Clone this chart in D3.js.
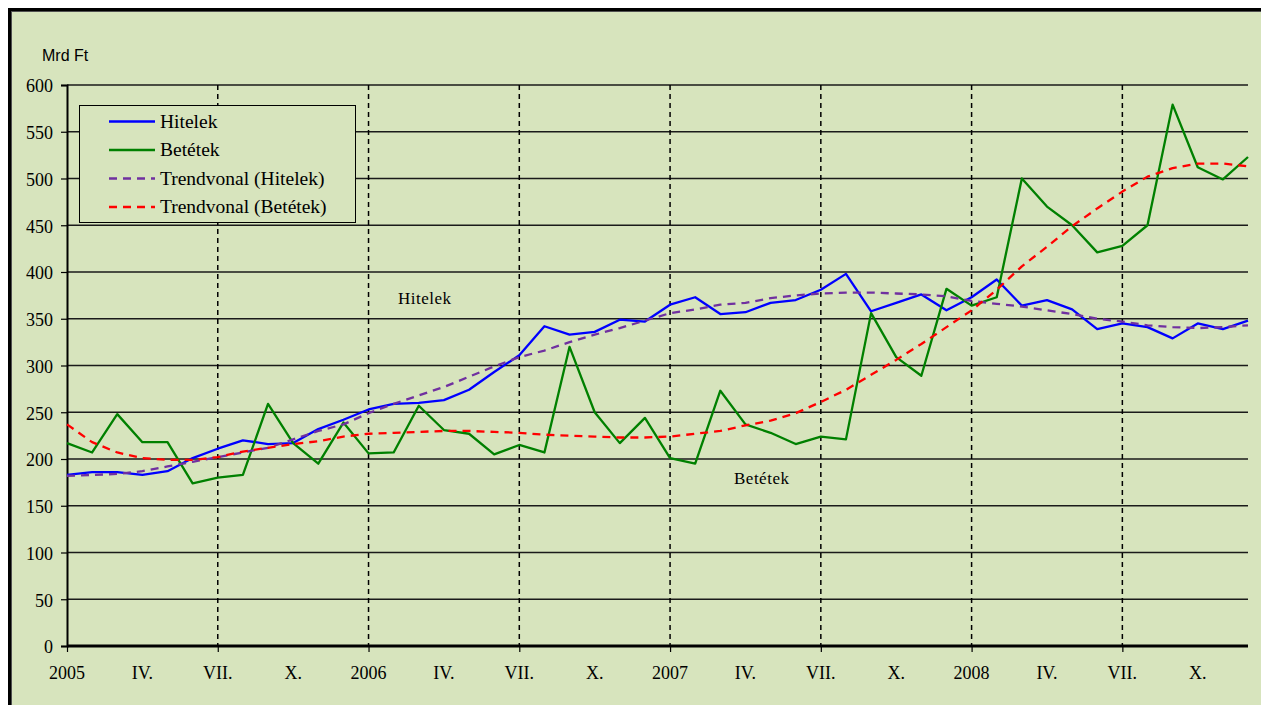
<!DOCTYPE html>
<html lang="hu">
<head>
<meta charset="utf-8">
<title>Hitelek és betétek</title>
<style>
  html, body { margin: 0; padding: 0; background: #fff; }
  svg { display: block; }
  .serif { font-family: "Liberation Serif", "Times New Roman", serif; fill: #000; }
</style>
</head>
<body>
<div id="chart"></div>
<script src="https://cdn.jsdelivr.net/npm/d3@7"></script>
<script>
// havi adatok, 2005. január - 2008. december (Mrd Ft)
var tickLabels = ["2005", "IV.", "VII.", "X.", "2006", "IV.", "VII.", "X.",
                  "2007", "IV.", "VII.", "X.", "2008", "IV.", "VII.", "X."];

var hitelek = [183, 186, 186, 183, 187, 201, 211, 220, 216, 217, 232, 242,
               253, 259, 260, 263, 274, 293, 311, 342, 333, 336, 349, 347,
               365, 373, 355, 357, 367, 370, 381, 398, 358, 367, 376, 359,
               373, 392, 364, 370, 360, 339, 345, 341, 329, 345, 339, 348];

var betetek = [217, 207, 248, 218, 218, 174, 180, 183, 259, 217, 195, 239,
               206, 207, 257, 231, 227, 205, 215, 207, 320, 250, 217, 244,
               201, 195, 273, 237, 228, 216, 224, 221, 356, 309, 289, 382,
               364, 373, 500, 470, 450, 421, 428, 450, 579, 512, 499, 523];

var trendHitelek = [182, 183, 184, 187, 192, 197, 202, 207, 212, 221, 230, 237,
                    249, 259, 268, 277, 288, 299, 309, 316, 325, 333, 340, 348,
                    356, 360, 365, 367, 372, 375, 377, 378, 378, 377, 376, 374,
                    369, 366, 363, 359, 355, 350, 347, 343, 341, 340, 341, 343];

var trendBetetek = [237, 218, 207, 201, 199, 199, 202, 208, 212, 216, 219, 224,
                    227, 228, 229, 230, 230, 229, 228, 226, 225, 224, 223, 223,
                    224, 227, 230, 236, 241, 249, 261, 274, 290, 306, 323, 341,
                    359, 381, 406, 427, 449, 468, 486, 502, 511, 516, 516, 513];

var legendNames = ["Hitelek", "Betétek", "Trendvonal (Hitelek)", "Trendvonal (Betétek)"];

var width = 1261, height = 705;
var bg = "#d7e4bd";

var svg = d3.select("#chart").append("svg")
    .attr("width", width)
    .attr("height", height);

// keret
svg.append("rect").attr("x", 8).attr("y", 8)
    .attr("width", width - 8).attr("height", height - 8)
    .attr("fill", "#000");
svg.append("rect").attr("x", 11).attr("y", 11)
    .attr("width", width - 11).attr("height", height - 11)
    .attr("fill", "#505050");
svg.append("rect").attr("x", 12).attr("y", 12)
    .attr("width", width - 12).attr("height", height - 12)
    .attr("fill", bg);

var x = d3.scaleLinear().domain([0, hitelek.length - 1]).range([67, 1248]);
var y = d3.scaleLinear().domain([0, 600]).range([646, 85]);

// vízszintes rácsvonalak
var yTicks = d3.range(0, 601, 50);
svg.append("g").selectAll("line")
    .data(yTicks.filter(function (d) { return d > 0; }))
    .enter().append("line")
    .attr("x1", 67).attr("x2", 1248)
    .attr("y1", function (d) { return y(d); })
    .attr("y2", function (d) { return y(d); })
    .attr("stroke", "#1a1a1a")
    .attr("stroke-width", 1.4);

// függőleges szaggatott vonalak félévente
var halfYears = d3.range(6, hitelek.length, 6);
svg.append("g").selectAll("line")
    .data(halfYears)
    .enter().append("line")
    .attr("x1", function (d) { return x(d); })
    .attr("x2", function (d) { return x(d); })
    .attr("y1", y(600)).attr("y2", y(0))
    .attr("stroke", "#000")
    .attr("stroke-width", 1.5)
    .attr("stroke-dasharray", "5,4");

// y tengely
var yAxis = svg.append("g")
    .attr("transform", "translate(67,0)")
    .call(d3.axisLeft(y).tickValues(yTicks).tickSize(6).tickPadding(8));
yAxis.select(".domain").attr("stroke", "#000").attr("stroke-width", 2);
yAxis.selectAll(".tick line").attr("stroke", "#000").attr("stroke-width", 1.2);
yAxis.selectAll(".tick text")
    .attr("class", "serif")
    .attr("font-size", 18)
    .attr("dy", "0.38em");

// x tengely
var xAxis = svg.append("g")
    .attr("transform", "translate(0," + y(0) + ")")
    .call(d3.axisBottom(x).tickValues(d3.range(0, hitelek.length, 6)).tickSize(6).tickFormat(""));
xAxis.select(".domain").attr("stroke", "#000").attr("stroke-width", 3)
    .attr("d", "M67,0H1248");
xAxis.selectAll(".tick line").attr("stroke", "#000").attr("stroke-width", 1.2);

svg.append("g").selectAll("text")
    .data(tickLabels)
    .enter().append("text")
    .attr("class", "serif")
    .attr("x", function (d, i) { return x(i * 3); })
    .attr("y", 679)
    .attr("text-anchor", "middle")
    .attr("font-size", 18)
    .text(function (d) { return d; });

svg.append("text")
    .attr("x", 42).attr("y", 61)
    .attr("font-family", "Liberation Sans, Arial, sans-serif")
    .attr("font-size", 16)
    .text("Mrd Ft");

// adatsorok
var line = d3.line()
    .x(function (d, i) { return x(i); })
    .y(function (d) { return y(d); });

var series = [
    { name: legendNames[0], values: hitelek, color: "#0000ff", dash: null },
    { name: legendNames[1], values: betetek, color: "#008000", dash: null },
    { name: legendNames[2], values: trendHitelek, color: "#7030a0", dash: "8,6" },
    { name: legendNames[3], values: trendBetetek, color: "#ff0000", dash: "8,6" }
];

svg.append("g").selectAll("path")
    .data(series)
    .enter().append("path")
    .attr("d", function (d) { return line(d.values); })
    .attr("fill", "none")
    .attr("stroke", function (d) { return d.color; })
    .attr("stroke-width", 2.3)
    .attr("stroke-linejoin", "round")
    .attr("stroke-dasharray", function (d) { return d.dash; });

// feliratok a vonalak mellett
svg.append("text").attr("class", "serif")
    .attr("x", 398).attr("y", 304)
    .attr("font-size", 17).attr("letter-spacing", 0.5)
    .text("Hitelek");
svg.append("text").attr("class", "serif")
    .attr("x", 734).attr("y", 484)
    .attr("font-size", 17).attr("letter-spacing", 0.5)
    .text("Betétek");

// jelmagyarázat
var legend = svg.append("g");
legend.append("rect")
    .attr("x", 79.5).attr("y", 105.5)
    .attr("width", 276).attr("height", 117)
    .attr("fill", bg)
    .attr("stroke", "#000")
    .attr("stroke-width", 1);

var item = legend.selectAll("g.item")
    .data(series)
    .enter().append("g")
    .attr("class", "item")
    .attr("transform", function (d, i) { return "translate(0," + (121.5 + i * 28.5) + ")"; });

item.append("line")
    .attr("x1", 109).attr("x2", 155)
    .attr("stroke", function (d) { return d.color; })
    .attr("stroke-width", 2.5)
    .attr("stroke-dasharray", function (d) { return d.dash; });

item.append("text")
    .attr("class", "serif")
    .attr("x", 160).attr("y", 6)
    .attr("font-size", 19.5)
    .text(function (d) { return d.name; });
</script>
</body>
</html>
